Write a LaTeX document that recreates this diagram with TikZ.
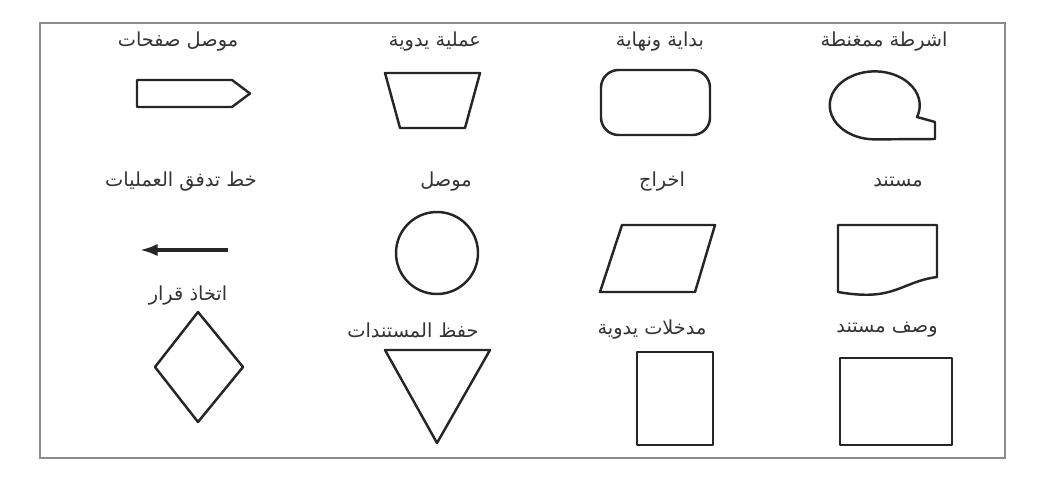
\documentclass[tikz,border=0pt]{standalone}
\usepackage{fontspec}
\newfontfamily\arabicfont[Script=Arabic]{DejaVu Sans}
\TeXXeTstate=1
\usetikzlibrary{arrows.meta}
\begin{document}
\begin{tikzpicture}[x=0.02cm,y=-0.02cm,
  shp/.style={draw=black!85, line width=1.4pt, line join=round},
  lbl/.style={font=\arabicfont\fontsize{11}{13}\selectfont, text=black!80, inner sep=0pt},
  frame/.style={draw=black!45, line width=0.8pt}]
\useasboundingbox (0,0) rectangle (1047,480);
\draw[frame] (40,23) rectangle (1005,458);
% row 1 labels
\node[lbl] (l11) at (178,42) {\beginR موصل صفحات\endR};
\node[lbl] (l12) at (435,42) {\beginR عملية يدوية\endR};
\node[lbl] (l13) at (660,42) {\beginR بداية ونهاية\endR};
\node[lbl] (l14) at (884,42) {\beginR اشرطة ممغنطة\endR};
% row 1 shapes
\draw[shp] (137,80) -- (232,80) -- (250,93.5) -- (232,107) -- (137,107) -- cycle;
\draw[shp] (385,73) -- (480,73) -- (465,128) -- (400,128) -- cycle;
\draw[shp, rounded corners=10] (601,70) rectangle (710,135);
\draw[shp] (917,117) arc[start angle=20, end angle=-270, x radius=45, y radius=34]
  -- (935,139) -- (935,122) -- cycle;
% row 2 labels
\node[lbl] (l21) at (181,182) {\beginR خط تدفق العمليات\endR};
\node[lbl] (l22) at (446,182) {\beginR موصل\endR};
\node[lbl] (l23) at (662,182) {\beginR اخراج\endR};
\node[lbl] (l24) at (898,182) {\beginR مستند\endR};
% row 2 shapes
\coordinate (arrS) at (228,250);
\coordinate (arrE) at (140,250);
\draw[draw=black!85, line width=1.8pt, -{Latex[length=10pt,width=7pt]}] (arrS) -- (arrE);
\draw[shp] (437,253) circle[radius=41];
\draw[shp] (600,292) -- (695,292) -- (715,225) -- (622,225) -- cycle;
\draw[shp] (838,225) -- (937,225) -- (937,277) .. controls (900,282) and (895,302) .. (838,292) -- cycle;
% row 3 labels
\node[lbl] (l31) at (188,296) {\beginR اتخاذ قرار\endR};
\node[lbl] (l32) at (413,330) {\beginR حفظ المستندات\endR};
\node[lbl] (l33) at (652,330) {\beginR مدخلات يدوية\endR};
\node[lbl] (l34) at (887,330) {\beginR وصف مستند\endR};
% row 3 shapes
\draw[shp] (198,312) -- (243,367) -- (198,422) -- (155,367) -- cycle;
\draw[shp] (385,350) -- (490,350) -- (437,443) -- cycle;
\draw[shp] (637,352) rectangle (713,445);
\draw[shp] (840,358) rectangle (952,445);
\end{tikzpicture}
\end{document}
